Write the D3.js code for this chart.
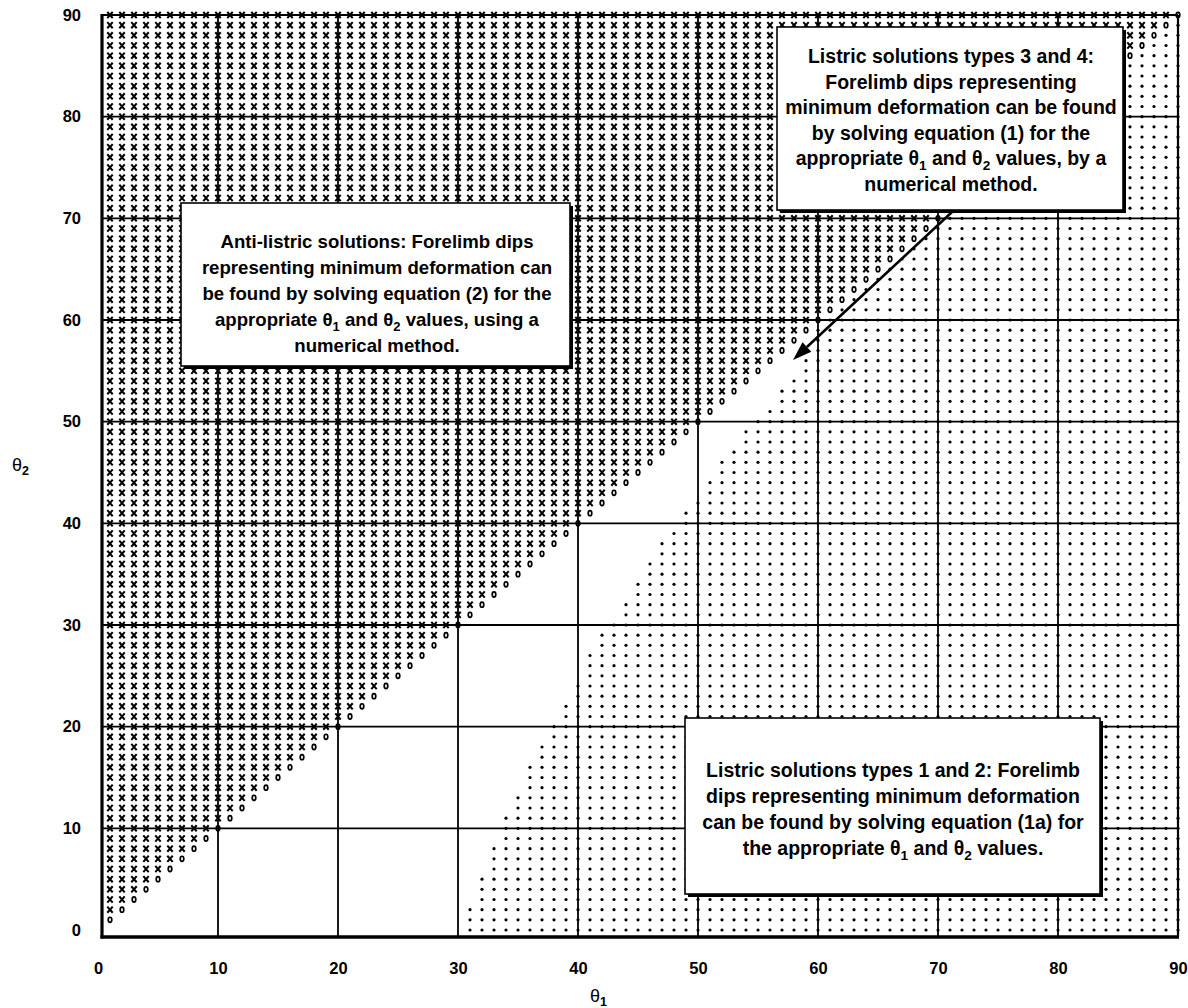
<!DOCTYPE html>
<html>
<head>
<meta charset="utf-8">
<script src="https://cdn.jsdelivr.net/npm/d3@7"></script>
<style>
  body { margin: 0; background: #fff; }
  svg { display: block; }
  text { font-family: "Liberation Sans", Arial, Helvetica, sans-serif; fill: #000; }
</style>
</head>
<body>
<svg id="chart" width="1188" height="1008"></svg>
<script>
// ---- data -------------------------------------------------------------
const xTicks = [0, 10, 20, 30, 40, 50, 60, 70, 80, 90];
const yTicks = [0, 10, 20, 30, 40, 50, 60, 70, 80, 90];

// sampled dip angles (degrees)
const theta1Values = d3.range(1, 91);   // 1 .. 90
const theta2Values = d3.range(0, 91);   // 0 .. 90

// first θ1 carrying a listric solution, for θ2 = 0, 1, 2, ... 90
const listricStart = [
  31, 31, 31, 32, 32, 32, 33, 33, 33, 34,
  34, 34, 35, 35, 36, 36, 36, 37, 37, 38,
  38, 39, 39, 40, 40, 41, 41, 41, 42, 42,
  43, 44, 44, 45, 45, 46, 46, 47, 47, 48,
  49, 49, 50, 51, 51, 52, 52, 53, 54, 54,
  55, 56, 57, 57, 58, 59, 59, 60, 60, 60,
  61, 62, 63, 64, 65, 66, 67, 68, 69, 70,
  71, 72, 73, 74, 75, 76, 77, 78, 79, 80,
  81, 82, 83, 84, 85, 86, 87, 88, 89, 90,
  91
];

const noteAnti = [
  "Anti-listric solutions: Forelimb dips",
  "representing minimum deformation can",
  "be found by solving equation (2) for the",
  ["appropriate ", "θ|1", " and ", "θ|2", " values, using a"],
  "numerical method."
];
const noteTypes34 = [
  "Listric solutions types 3 and 4:",
  "Forelimb dips representing",
  "minimum deformation can be found",
  "by solving equation (1) for the",
  ["appropriate ", "θ|1", " and ", "θ|2", " values, by a"],
  "numerical method."
];
const noteTypes12 = [
  "Listric solutions types 1 and 2: Forelimb",
  "dips representing minimum deformation",
  "can be found by solving equation (1a) for",
  ["the appropriate ", "θ|1", " and ", "θ|2", " values."]
];

// ---- layout -----------------------------------------------------------
const svg = d3.select("#chart");
const frame = { left: 102, right: 1178, top: 15, bottom: 937 };

const x = d3.scaleLinear().domain([0, 90]).range([98, 1178]);
const y = d3.scaleLinear().domain([0, 90]).range([930, 15]);

// grid lines
const grid = svg.append("g").attr("class", "grid");
grid.selectAll("line.v")
  .data(xTicks.filter(d => d > 0 && d < 90))
  .join("line")
  .attr("x1", d => x(d)).attr("x2", d => x(d))
  .attr("y1", frame.top).attr("y2", frame.bottom)
  .attr("stroke", "#000").attr("stroke-width", 1.8);
grid.selectAll("line.h")
  .data(yTicks.filter(d => d > 0 && d < 90))
  .join("line")
  .attr("x1", frame.left).attr("x2", frame.right)
  .attr("y1", d => y(d)).attr("y2", d => y(d))
  .attr("stroke", "#000").attr("stroke-width", 1.8);

// classify every sampled (θ1, θ2) pair
const cells = [];
theta2Values.forEach(t2 => {
  theta1Values.forEach(t1 => {
    let kind = null;
    if (t1 < t2) kind = "x";
    else if (t1 === t2) kind = "o";
    else if (t1 >= listricStart[t2]) kind = "dot";
    if (kind) cells.push({ t1, t2, kind });
  });
});

const crossSymbol = {
  draw(ctx) {
    const w = 2.7, h = 3.1;
    ctx.moveTo(-w, -h); ctx.lineTo(w, h);
    ctx.moveTo(w, -h); ctx.lineTo(-w, h);
  }
};

const marks = svg.append("g").attr("class", "marks");
marks.selectAll("path.cross")
  .data(cells.filter(d => d.kind === "x"))
  .join("path")
  .attr("class", "cross")
  .attr("transform", d => `translate(${x(d.t1)},${y(d.t2)})`)
  .attr("d", d3.symbol(crossSymbol))
  .attr("fill", "none").attr("stroke", "#000").attr("stroke-width", 2.05);

marks.selectAll("ellipse.ring")
  .data(cells.filter(d => d.kind === "o"))
  .join("ellipse")
  .attr("class", "ring")
  .attr("cx", d => x(d.t1)).attr("cy", d => y(d.t2))
  .attr("rx", 1.8).attr("ry", 2.6)
  .attr("fill", "none").attr("stroke", "#000").attr("stroke-width", 1.7);

marks.selectAll("circle.dot")
  .data(cells.filter(d => d.kind === "dot"))
  .join("circle")
  .attr("class", "dot")
  .attr("cx", d => x(d.t1)).attr("cy", d => y(d.t2))
  .attr("r", 1.6)
  .attr("fill", "#000");

// plot frame
svg.append("line").attr("x1", frame.left).attr("x2", frame.right)
  .attr("y1", frame.top).attr("y2", frame.top)
  .attr("stroke", "#000").attr("stroke-width", 2.2);
svg.append("line").attr("x1", frame.right).attr("x2", frame.right)
  .attr("y1", frame.top).attr("y2", frame.bottom)
  .attr("stroke", "#000").attr("stroke-width", 2.2);
svg.append("line").attr("x1", frame.left).attr("x2", frame.left)
  .attr("y1", frame.top - 1).attr("y2", frame.bottom + 1.5)
  .attr("stroke", "#000").attr("stroke-width", 3.2);
svg.append("line").attr("x1", frame.left - 1.5).attr("x2", frame.right + 1)
  .attr("y1", frame.bottom).attr("y2", frame.bottom)
  .attr("stroke", "#000").attr("stroke-width", 3.6);

// tick labels
const xAxis = svg.append("g")
  .attr("transform", `translate(0,${frame.bottom})`)
  .call(d3.axisBottom(x).tickValues(xTicks).tickSize(0).tickPadding(25));
const yAxis = svg.append("g")
  .attr("transform", `translate(${frame.left},0)`)
  .call(d3.axisLeft(y).tickValues(yTicks).tickSize(0).tickPadding(21));
[xAxis, yAxis].forEach(g => {
  g.select(".domain").remove();
  g.selectAll("text")
    .attr("font-family", "'Liberation Sans', Arial, sans-serif")
    .attr("font-size", 16.5).attr("font-weight", "bold").attr("fill", "#000");
});

// axis titles
function thetaLabel(px, py, sub) {
  const t = svg.append("text").attr("x", px).attr("y", py);
  t.append("tspan").attr("font-size", 18).text("θ");
  t.append("tspan").attr("font-size", 12.5).attr("font-weight", "bold")
    .attr("dy", 4).text(sub);
  return t;
}
thetaLabel(12, 471, "2");
thetaLabel(590, 1002, "1");

// annotation boxes
function noteBox(box, lines, cx, firstBaseline, lineGap, fontSize) {
  const g = svg.append("g");
  g.append("rect")
    .attr("x", box.x0 + 3).attr("y", box.y0 + 3)
    .attr("width", box.x1 - box.x0).attr("height", box.y1 - box.y0)
    .attr("fill", "#000");
  g.append("rect")
    .attr("x", box.x0).attr("y", box.y0)
    .attr("width", box.x1 - box.x0).attr("height", box.y1 - box.y0)
    .attr("fill", "#fff").attr("stroke", "#000").attr("stroke-width", 1.6);
  lines.forEach((line, i) => {
    const t = g.append("text")
      .attr("x", cx).attr("y", firstBaseline + i * lineGap)
      .attr("text-anchor", "middle")
      .attr("font-size", fontSize).attr("font-weight", "bold");
    const parts = Array.isArray(line) ? line : [line];
    let shifted = false;
    parts.forEach(p => {
      if (p.startsWith("θ|")) {
        t.append("tspan").attr("dy", shifted ? -4.5 : null).text("θ");
        t.append("tspan").attr("font-size", fontSize * 0.7).attr("dy", 4.5).text(p.slice(2));
        shifted = true;
      } else {
        t.append("tspan").attr("dy", shifted ? -4.5 : null).text(p);
        shifted = false;
      }
    });
  });
}

noteBox({ x0: 181, y0: 203, x1: 570, y1: 366 }, noteAnti, 377, 248, 26, 18.6);
noteBox({ x0: 777, y0: 27, x1: 1123, y1: 210 }, noteTypes34, 951, 63, 25.5, 19.5);
noteBox({ x0: 685, y0: 718, x1: 1100, y1: 894 }, noteTypes12, 893, 777, 26, 19.5);

// arrow from the types 3/4 note down to the gap between regions
const arrowFrom = [952, 212], arrowTo = [793, 360];
const ang = Math.atan2(arrowTo[1] - arrowFrom[1], arrowTo[0] - arrowFrom[0]);
const headLen = 19, headHalf = 6.5;
const base = [arrowTo[0] - headLen * Math.cos(ang), arrowTo[1] - headLen * Math.sin(ang)];
svg.append("line")
  .attr("x1", arrowFrom[0]).attr("y1", arrowFrom[1])
  .attr("x2", base[0]).attr("y2", base[1])
  .attr("stroke", "#000").attr("stroke-width", 2.6);
svg.append("path")
  .attr("d", d3.line()([
    arrowTo,
    [base[0] + headHalf * Math.sin(ang), base[1] - headHalf * Math.cos(ang)],
    [base[0] - headHalf * Math.sin(ang), base[1] + headHalf * Math.cos(ang)]
  ]) + "Z")
  .attr("fill", "#000");
</script>
</body>
</html>
